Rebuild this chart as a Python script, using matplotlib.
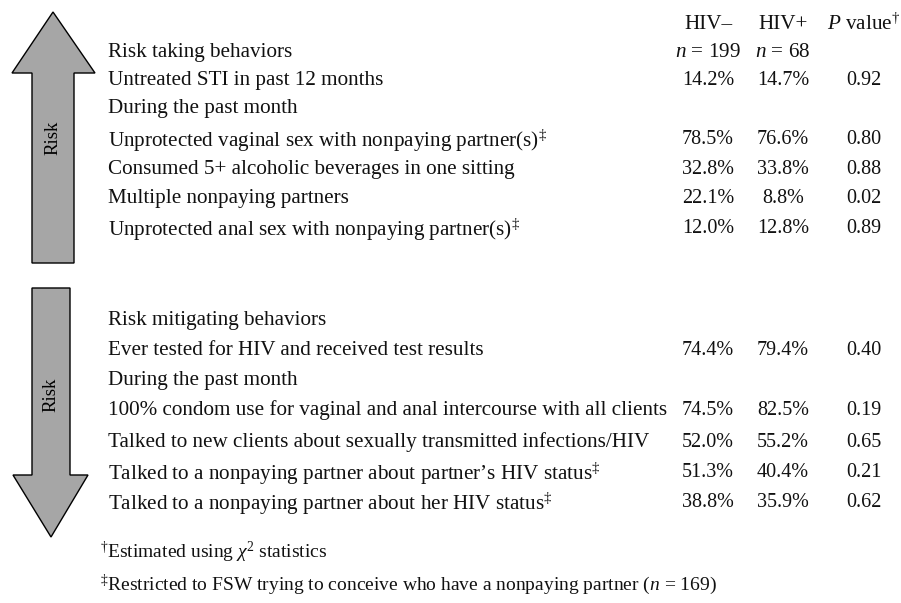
import matplotlib
matplotlib.use("Agg")
import matplotlib.pyplot as plt
from matplotlib.patches import Polygon

# Fonts
plt.rcParams["font.family"] = ["Liberation Serif", "DejaVu Serif"]
plt.rcParams["mathtext.fontset"] = "custom"
plt.rcParams["mathtext.rm"] = "Liberation Serif"
plt.rcParams["mathtext.it"] = "Liberation Serif:italic"

# Data
col_headers = ["HIV\u2013", "HIV+", "$P$ value$^{\u2020}$"]
col_n = ["$n$ = 199", "$n$ = 68"]

up_title = "Risk taking behaviors"
up_labels = ["Untreated STI in past 12 months",
             "During the past month",
             "Unprotected vaginal sex with nonpaying partner(s)$^{\u2021}$",
             "Consumed 5+ alcoholic beverages in one sitting",
             "Multiple nonpaying partners",
             "Unprotected anal sex with nonpaying partner(s)$^{\u2021}$"]
up_neg = ["14.2%", "", "78.5%", "32.8%", "22.1%", "12.0%"]
up_pos = ["14.7%", "", "76.6%", "33.8%", "8.8%", "12.8%"]
up_p = ["0.92", "", "0.80", "0.88", "0.02", "0.89"]

down_title = "Risk mitigating behaviors"
down_labels = ["Ever tested for HIV and received test results",
               "During the past month",
               "100% condom use for vaginal and anal intercourse with all clients",
               "Talked to new clients about sexually transmitted infections/HIV",
               "Talked to a nonpaying partner about partner\u2019s HIV status$^{\u2021}$",
               "Talked to a nonpaying partner about her HIV status$^{\u2021}$"]
down_neg = ["74.4%", "", "74.5%", "52.0%", "51.3%", "38.8%"]
down_pos = ["79.4%", "", "82.5%", "55.2%", "40.4%", "35.9%"]
down_p = ["0.40", "", "0.19", "0.65", "0.21", "0.62"]

footnotes = ["$^{\u2020}$Estimated using $\\chi^2$ statistics",
             "$^{\u2021}$Restricted to FSW trying to conceive who have a nonpaying partner ($n$ = 169)"]

# Layout (pixel coordinates)
up_rows = [78, 106, 137, 167, 196, 226]
down_rows = [348, 378, 408, 440, 470, 500]
col_x = [708, 783, 864]
label_x = 108
fs = 15.2

fig = plt.figure(figsize=(9.01, 6.03), dpi=100)
ax = fig.add_axes([0, 0, 1, 1])
ax.set_xlim(0, 901)
ax.set_ylim(603, 0)
ax.axis("off")

# Arrows
up_arrow = [(53, 12), (95, 73), (74, 73), (74, 263), (32, 263), (32, 73), (12, 73)]
down_arrow = [(32, 288), (70, 288), (70, 475), (88, 475), (51, 537), (13, 475), (32, 475)]
for pts in [up_arrow, down_arrow]:
    ax.add_patch(Polygon(pts, closed=True, facecolor="#a6a6a6", edgecolor="black", linewidth=1.0))
ax.text(53, 138, "Risk", rotation=90, ha="center", va="center", fontsize=13.5)
ax.text(51, 395, "Risk", rotation=90, ha="center", va="center", fontsize=13.5)

def cell(x, y, s, ha="center", size=fs):
    ax.text(x, y, s, ha=ha, va="center_baseline", fontsize=size, color="#111111")

# Header
for x, s in zip(col_x, col_headers):
    cell(x, 22, s)
for x, s in zip(col_x, col_n):
    cell(x, 50, s)
cell(label_x, 50, up_title, ha="left")

for i, y in enumerate(up_rows):
    cell(label_x, y, up_labels[i], ha="left")
    cell(col_x[0], y, up_neg[i], size=14.5)
    cell(col_x[1], y, up_pos[i], size=14.5)
    cell(col_x[2], y, up_p[i], size=14.5)

cell(label_x, 318, down_title, ha="left")
for i, y in enumerate(down_rows):
    cell(label_x, y, down_labels[i], ha="left")
    cell(col_x[0], y, down_neg[i], size=14.5)
    cell(col_x[1], y, down_pos[i], size=14.5)
    cell(col_x[2], y, down_p[i], size=14.5)

cell(100, 549, footnotes[0], ha="left", size=14)
cell(100, 581, footnotes[1], ha="left", size=14)

fig.savefig("out.png", dpi=100)
